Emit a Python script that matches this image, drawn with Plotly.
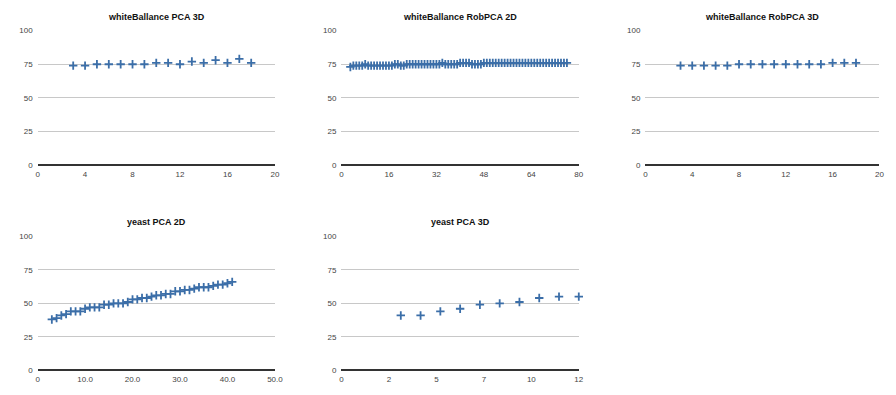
import plotly.graph_objects as go

W, H = 896, 395

# ---- data ----
wb_pca3d_x = list(range(3, 19))
wb_pca3d_y = [74, 74, 75, 75, 75, 75, 75, 76, 76, 75, 77, 76, 78, 76, 79, 76]

wb_rob2d_x = list(range(3, 77))
wb_rob2d_y = ([73] + [74] * 4 + [75] + [74] * 9 + [75, 75, 74, 74]
              + [75] * 12 + [76] + [75] * 5 + [76] * 4 + [75] * 4 + [76] * 30)

wb_rob3d_x = list(range(3, 19))
wb_rob3d_y = [74, 74, 74, 74, 74, 75, 75, 75, 75, 75, 75, 75, 75, 76, 76, 76]

yeast2d_x = list(range(3, 42))
yeast2d_y = [38, 39, 41, 42, 44, 44, 44, 46, 47, 47, 47, 49, 49, 50, 50, 50, 51,
             53, 53, 54, 54, 55, 56, 56, 57, 57, 59, 59, 60, 60, 61, 62, 62, 62,
             63, 64, 64, 65, 66]

yeast3d_x = list(range(3, 13))
yeast3d_y = [41, 41, 44, 46, 49, 50, 51, 54, 55, 55]

titles = ["whiteBallance PCA 3D", "whiteBallance RobPCA 2D", "whiteBallance RobPCA 3D",
          "yeast PCA 2D", "yeast PCA 3D"]

y_ticks = [0, 25, 50, 75, 100]
x_ticks = [
    ([0, 4, 8, 12, 16, 20], ["0", "4", "8", "12", "16", "20"], 20),
    ([0, 16, 32, 48, 64, 80], ["0", "16", "32", "48", "64", "80"], 80),
    ([0, 4, 8, 12, 16, 20], ["0", "4", "8", "12", "16", "20"], 20),
    ([0, 10, 20, 30, 40, 50], ["0", "10.0", "20.0", "30.0", "40.0", "50.0"], 50),
    ([0, 2.4, 4.8, 7.2, 9.6, 12], ["0", "2", "5", "7", "10", "12"], 12),
]

series = [(wb_pca3d_x, wb_pca3d_y), (wb_rob2d_x, wb_rob2d_y), (wb_rob3d_x, wb_rob3d_y),
          (yeast2d_x, yeast2d_y), (yeast3d_x, yeast3d_y)]

# plot areas in pixels: (x0, x1, ytop, ybottom)
boxes = [
    (36, 276, 27.3, 164.7),
    (343.3, 583.3, 27.3, 164.7),
    (650.7, 887.3, 27.3, 164.7),
    (36, 276, 237.7, 375),
    (343.3, 583.3, 237.7, 375),
]
title_y = [13.5, 13.5, 13.5, 223.5, 223.5]

fig = go.Figure()
font = "Liberation Sans, Arial, Helvetica, sans-serif"
color = "#3b6ea8"

for i, ((xs, ys), (x0, x1, yt, yb), (tv, tt, xmax)) in enumerate(zip(series, boxes, x_ticks)):
    n = "" if i == 0 else str(i + 1)
    fig.add_trace(go.Scatter(
        x=xs, y=ys, mode="markers", xaxis="x" + n, yaxis="y" + n,
        marker=dict(symbol="cross-thin-open", size=6, color=color,
                    line=dict(color=color, width=1.8)),
        cliponaxis=False, showlegend=False, hoverinfo="x+y"))
    fig.layout["xaxis" + n] = dict(
        domain=[x0 / W, x1 / W], anchor="y" + n, range=[0, xmax],
        tickvals=tv, ticktext=tt, showgrid=False, zeroline=False,
        showline=False, ticks="", ticklabelstandoff=3,
        tickfont=dict(size=8, color="#444", family=font),
        fixedrange=True)
    fig.layout["yaxis" + n] = dict(
        domain=[1 - yb / H, 1 - yt / H], anchor="x" + n, range=[0, 100],
        tickvals=y_ticks, showgrid=True, gridcolor="#c8c8c8", gridwidth=1,
        zeroline=True, zerolinecolor="#333", zerolinewidth=1.5,
        showline=False, ticks="", ticklabelstandoff=4,
        tickfont=dict(size=8, color="#444", family=font),
        fixedrange=True)
    fig.add_annotation(x=(x0 + x1) / 2 / W, y=1 - title_y[i] / H, xref="paper", yref="paper",
                       text="<b>" + titles[i] + "</b>", showarrow=False,
                       font=dict(size=9, color="#111", family=font),
                       xanchor="center", yanchor="middle")

fig.update_layout(width=W, height=H, margin=dict(l=0, r=0, t=0, b=0),
                  plot_bgcolor="white", paper_bgcolor="white")
fig.write_html("out.html")
